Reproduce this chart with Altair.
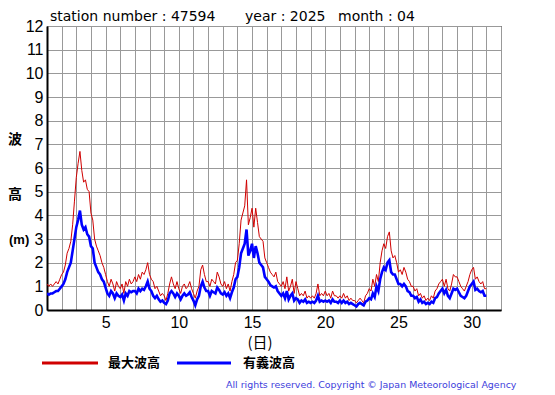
import altair as alt
import pandas as pd

# 3-hourly readings, April 2025 (8 per day, plus end of month)
max_wave = [
    1.1, 1.0, 1.1, 1.0, 1.1, 1.2, 1.1, 1.3,   # 1
    1.5, 1.6, 1.9, 2.4, 2.6, 2.9, 3.6, 4.6,   # 2
    5.6, 6.2, 6.7, 5.9, 5.4, 5.5, 5.1, 5.0,   # 3
    4.1, 3.8, 3.0, 2.7, 2.5, 2.3, 2.0, 1.8,   # 4
    1.5, 1.2, 1.0, 1.3, 1.1, 0.8, 1.2, 1.0,   # 5
    0.9, 1.1, 0.7, 1.2, 1.0, 1.3, 1.1, 1.2,   # 6
    1.4, 1.2, 1.5, 1.3, 1.6, 1.5, 1.7, 2.0,   # 7
    1.5, 1.3, 1.2, 0.9, 1.0, 0.8, 0.6, 0.7,   # 8
    0.6, 0.4, 0.7, 1.1, 1.4, 1.1, 0.9, 1.2,   # 9
    0.9, 0.7, 1.0, 1.1, 0.9, 1.0, 1.2, 0.9,   # 10
    0.7, 0.5, 0.8, 1.0, 1.7, 1.9, 1.5, 1.2,   # 11
    1.2, 1.0, 1.3, 1.2, 1.1, 1.6, 1.4, 1.1,   # 12
    1.0, 1.2, 0.9, 1.1, 0.8, 1.2, 1.5, 2.0,   # 13
    2.1, 2.8, 3.8, 4.1, 4.4, 5.5, 3.6, 3.9,   # 14
    4.3, 3.5, 4.3, 3.7, 3.1, 3.0, 2.9, 2.2,   # 15
    2.0, 1.8, 1.6, 1.5, 1.4, 1.6, 1.2, 1.1,   # 16
    1.0, 1.2, 0.9, 1.4, 0.8, 1.0, 1.3, 0.7,   # 17
    1.2, 0.9, 0.6, 0.7, 0.6, 0.8, 0.5, 0.6,   # 18
    0.5, 0.6, 0.5, 0.7, 1.1, 0.6, 0.7, 0.6,   # 19
    0.8, 0.6, 0.7, 0.5, 0.8, 0.6, 0.6, 0.5,   # 20
    0.6, 0.5, 0.7, 0.5, 0.6, 0.4, 0.5, 0.4,   # 21
    0.4, 0.3, 0.4, 0.5, 0.4, 0.3, 0.6, 0.7,   # 22
    0.9, 0.8, 1.3, 1.0, 1.5, 1.2, 2.0, 2.5,   # 23
    2.8, 2.6, 3.1, 3.3, 2.5, 2.2, 2.3, 2.0,   # 24
    1.6, 1.7, 1.5, 1.8, 1.6, 1.3, 1.2, 1.0,   # 25
    1.0, 0.8, 0.9, 0.6, 0.7, 0.5, 0.6, 0.4,   # 26
    0.5, 0.4, 0.6, 0.5, 0.8, 0.9, 1.1, 1.2,   # 27
    1.3, 1.0, 1.3, 0.9, 0.8, 1.1, 1.5, 1.4,   # 28
    1.4, 1.2, 1.0, 0.9, 0.8, 1.0, 1.2, 1.5,   # 29
    1.7, 1.8, 1.3, 1.4, 1.2, 1.1, 1.2, 0.9,   # 30
    0.9,
]

sig_wave = [
    0.70, 0.65, 0.70, 0.70, 0.75, 0.80, 0.80, 0.90,   # 1
    1.00, 1.10, 1.30, 1.60, 1.80, 2.00, 2.50, 3.00,   # 2
    3.50, 3.80, 4.20, 3.60, 3.40, 3.50, 3.20, 3.10,   # 3
    2.70, 2.60, 2.00, 1.80, 1.60, 1.50, 1.30, 1.20,   # 4
    0.95, 0.70, 0.60, 0.80, 0.70, 0.50, 0.70, 0.60,   # 5
    0.55, 0.65, 0.40, 0.70, 0.60, 0.80, 0.75, 0.80,   # 6
    0.80, 0.70, 0.90, 0.80, 0.90, 0.85, 1.00, 1.20,   # 7
    0.90, 0.80, 0.60, 0.50, 0.60, 0.45, 0.35, 0.40,   # 8
    0.30, 0.25, 0.40, 0.70, 0.80, 0.70, 0.55, 0.70,   # 9
    0.60, 0.45, 0.60, 0.70, 0.60, 0.65, 0.75, 0.55,   # 10
    0.40, 0.20, 0.45, 0.60, 1.00, 1.20, 0.95, 0.80,   # 11
    0.80, 0.60, 0.80, 0.75, 0.70, 0.95, 0.85, 0.70,   # 12
    0.65, 0.75, 0.60, 0.70, 0.50, 0.75, 0.95, 1.30,   # 13
    1.40, 1.80, 2.40, 2.60, 2.80, 3.40, 2.30, 2.50,   # 14
    2.80, 2.20, 2.70, 2.40, 2.00, 1.90, 1.80, 1.40,   # 15
    1.30, 1.20, 1.05, 1.00, 0.95, 1.00, 0.80, 0.70,   # 16
    0.60, 0.70, 0.50, 0.80, 0.45, 0.60, 0.70, 0.40,   # 17
    0.50, 0.45, 0.30, 0.40, 0.35, 0.45, 0.30, 0.35,   # 18
    0.30, 0.35, 0.30, 0.40, 0.60, 0.35, 0.40, 0.35,   # 19
    0.40, 0.35, 0.40, 0.30, 0.45, 0.35, 0.35, 0.30,   # 20
    0.40, 0.30, 0.40, 0.30, 0.35, 0.25, 0.30, 0.25,   # 21
    0.20, 0.15, 0.25, 0.30, 0.25, 0.20, 0.35, 0.40,   # 22
    0.50, 0.45, 0.70, 0.55, 1.00, 0.80, 1.30, 1.60,   # 23
    1.80, 1.70, 2.00, 2.10, 1.60, 1.50, 1.50, 1.30,   # 24
    1.10, 1.10, 1.00, 1.10, 1.00, 0.80, 0.75, 0.60,   # 25
    0.60, 0.50, 0.55, 0.35, 0.45, 0.30, 0.35, 0.25,   # 26
    0.30, 0.25, 0.35, 0.30, 0.50, 0.55, 0.70, 0.80,   # 27
    0.90, 0.70, 0.85, 0.60, 0.50, 0.70, 0.90, 0.85,   # 28
    0.90, 0.75, 0.60, 0.55, 0.50, 0.60, 0.80, 1.00,   # 29
    1.10, 1.20, 0.85, 0.90, 0.80, 0.75, 0.80, 0.60,   # 30
    0.60,
]

series_names = ["最大波高", "有義波高"]
series_colors = ["#d00000", "#0000ff"]
series_widths = [1.0, 2.6]
x_ticks = list(range(1, 33))
y_ticks = list(range(0, 13))

rows = []
for i, v in enumerate(max_wave):
    rows.append({"day": 1 + i / 8, "h": v, "s": series_names[0]})
for i, v in enumerate(sig_wave):
    rows.append({"day": 1 + i / 8, "h": v, "s": series_names[1]})
df = pd.DataFrame(rows)

JP = "Noto Sans CJK JP"
EN = "Liberation Sans"
DV = "DejaVu Sans"

lines = alt.Chart(df).mark_line(clip=True).encode(
    x=alt.X("day:Q", scale=alt.Scale(domain=[1, 32], nice=False, zero=False),
            axis=alt.Axis(values=x_ticks, title=None, grid=True, ticks=False,
                          labelExpr="datum.value % 5 == 0 ? datum.label : ''",
                          labelFontSize=16, labelFont=EN, labelColor="black",
                          labelPadding=4, domainColor="black", domainWidth=2,
                          gridColor="#999999", gridWidth=1, labelFlush=False)),
    y=alt.Y("h:Q", scale=alt.Scale(domain=[0, 12], nice=False),
            axis=alt.Axis(values=y_ticks, title=None, grid=True, ticks=False,
                          labelFontSize=16, labelFont=EN, labelColor="black",
                          labelPadding=4, domainColor="black", domainWidth=2,
                          gridColor="#999999", gridWidth=1, labelFlush=False)),
    color=alt.Color("s:N", scale=alt.Scale(domain=series_names, range=series_colors), legend=None),
    strokeWidth=alt.StrokeWidth("s:N", scale=alt.Scale(domain=series_names, range=series_widths), legend=None),
)

one = pd.DataFrame({"k": [0]})

def txt(text, x, y, size, font=EN, align="left", baseline="alphabetic", color="black", weight="normal"):
    return alt.Chart(one).mark_text(text=text, fontSize=size, font=font, align=align,
                                    baseline=baseline, color=color, fontWeight=weight).encode(
        x=alt.value(x), y=alt.value(y))

def rule(x1, x2, y, color):
    return alt.Chart(one).mark_rule(color=color, strokeWidth=3).encode(
        x=alt.value(x1), x2=alt.value(x2), y=alt.value(y))

layers = [
    lines,
    txt("station number : 47594", 3, -5, 14, font=DV),
    txt("year : 2025", 198, -5, 14, font=DV),
    txt("month : 04", 291, -5, 14, font=DV),
    txt("波", -32, 114, 14, font=JP, align="center", baseline="middle", weight="bold"),
    txt("高", -32, 169, 14, font=JP, align="center", baseline="middle", weight="bold"),
    txt("(m)", -38, 214, 13, font=EN, align="left", baseline="middle", weight="bold"),
    txt("(日)", 213, 317, 15, font=JP, align="center", baseline="middle"),
    rule(-5, 51, 337, series_colors[0]),
    txt(series_names[0], 61, 337, 13, font=JP, baseline="middle", weight="bold"),
    rule(130, 184, 337, series_colors[1]),
    txt(series_names[1], 196, 337, 13, font=JP, baseline="middle", weight="bold"),
    txt("All rights reserved. Copyright © Japan Meteorological Agency", 179, 362, 9.45,
        font=DV, color="#4040dc"),
]

chart = alt.layer(*layers).properties(
    width=454, height=284,
    autosize="none",
    padding={"left": 39, "top": 18, "right": 46, "bottom": 85},
).configure_view(stroke="black", strokeWidth=1)

chart.save("out.html", embed_options={"renderer": "svg", "actions": False})
